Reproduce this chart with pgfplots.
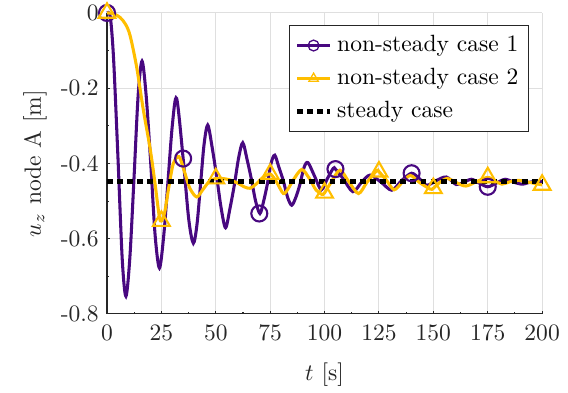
\documentclass[border=0pt]{standalone}
\usepackage{pgfplots}
\pgfplotsset{compat=1.18}
\definecolor{cpurple}{RGB}{72,8,128}
\definecolor{cyellow}{RGB}{255,190,0}
\definecolor{axgray}{RGB}{38,38,38}
\begin{document}
\begin{tikzpicture}
\begin{axis}[
  scale only axis,
  width=185pt, height=128pt,
  xmin=0, xmax=200, ymin=-0.8, ymax=0,
  axis x line*=bottom, axis y line*=left,
  axis line style={axgray, line width=0.45pt},
  xtick={0,25,...,200},
  ytick={-0.8,-0.6,-0.4,-0.2,0},
  yticklabels={{-0.8},{-0.6},{-0.4},{-0.2},{0}},
  minor x tick num=1, minor y tick num=1,
  major tick length=1.4pt, minor tick length=0.9pt,
  tick style={axgray, line width=0.45pt},
  tick label style={text=axgray},
  xticklabel style={yshift=-1.5pt},
  grid=major,
  major grid style={gray!25, line width=0.45pt},
  xlabel={$t$ [s]},
  ylabel={$u_z$ node A [m]},
  every axis x label/.style={at={([yshift=-26pt]rel axis cs:0.5,0)}, anchor=center},
  every axis y label/.style={at={([xshift=-30.6pt]rel axis cs:0,0.5)}, anchor=center, rotate=90},
  label style={text=axgray},
  clip=false,
  legend style={at={(rel axis cs:0.97,0.96)}, anchor=north east, draw=axgray, line width=0.45pt, fill=white, cells={anchor=west}, row sep=1.6pt, inner sep=2.3pt},
  legend cell align=left,
  legend image code/.code={
    \draw[#1, mark=none] (0pt,0pt) -- (14pt,0pt);
    \draw[#1, only marks, mark size=2.3pt, mark options={line width=0.55pt, solid}] plot coordinates {(7pt,0pt)};
  },
]
\coordinate (ll) at (rel axis cs:0,0);
\coordinate (ur) at (rel axis cs:1,1);
\addplot[cpurple, line width=1.3pt, smooth, mark=o, mark repeat=500, mark size=3.4pt, mark options={line width=0.9pt, solid}] coordinates {
(0,0) (1.5,-0.01) (3,-0.12) (5,-0.38) (7,-0.655) (8.7,-0.753) (10.5,-0.65) (12.4,-0.44) (14.3,-0.22) (16.1,-0.128)
(18.0,-0.22) (20.1,-0.40) (22.1,-0.59) (24.1,-0.678) (26.1,-0.59) (28.0,-0.45) (30.0,-0.30) (32.0,-0.227)
(35.0,-0.387) (37.6,-0.55) (39.7,-0.612) (41.4,-0.56) (43.0,-0.455) (44.6,-0.35) (46.3,-0.298)
(48.4,-0.36) (50.4,-0.435) (52.5,-0.52) (54.5,-0.571) (56.5,-0.52) (58.5,-0.458) (60.5,-0.385) (62.4,-0.345)
(64.4,-0.39) (66.3,-0.44) (68.3,-0.50) (70.3,-0.533) (72.0,-0.50) (73.7,-0.455) (75.4,-0.40) (77.1,-0.378)
(79.0,-0.41) (81.0,-0.445) (83.0,-0.49) (84.9,-0.511) (86.8,-0.49) (88.7,-0.455) (90.6,-0.41) (92.4,-0.398)
(95.5,-0.435) (98.5,-0.47) (101.3,-0.44) (104.0,-0.413) (105,-0.415) (108.5,-0.44) (113.0,-0.475) (117.0,-0.45)
(120.9,-0.431) (126.0,-0.45) (130.9,-0.471) (135.5,-0.445) (140.0,-0.426) (143.5,-0.44) (147,-0.458)
(151.5,-0.445) (156,-0.436) (160.5,-0.456) (164,-0.45) (167.5,-0.442) (171,-0.452) (175,-0.462)
(179,-0.452) (183,-0.442) (187,-0.45) (191,-0.455) (195,-0.449) (200,-0.448)
};
\addlegendentry{non-steady case 1}
\addplot[cyellow, line width=1.3pt, smooth, mark=triangle, mark repeat=500, mark size=4.1pt, mark options={line width=0.9pt, solid}] coordinates {
(0,0) (3,-0.002) (6,-0.012) (8.5,-0.03) (10.6,-0.06) (13.6,-0.143) (16.7,-0.258) (19.8,-0.36) (22,-0.45)
(24,-0.54) (25,-0.553) (26.5,-0.53) (28.5,-0.46) (30.5,-0.40) (33.1,-0.382) (35.5,-0.42) (38,-0.465)
(41.2,-0.489) (44,-0.47) (47,-0.448) (50,-0.44) (53,-0.44) (56,-0.443) (60,-0.452) (63,-0.462)
(65.7,-0.466) (68.5,-0.455) (71.5,-0.438) (75,-0.428) (78,-0.45) (81.1,-0.48) (83.5,-0.465) (85.5,-0.445)
(89.5,-0.416) (93,-0.44) (96,-0.47) (98.7,-0.482) (100,-0.478) (103,-0.45) (107.1,-0.418) (111.3,-0.45)
(115.6,-0.48) (119.5,-0.45) (124,-0.419) (125,-0.422) (128.5,-0.445) (132,-0.47) (136,-0.448)
(139.5,-0.432) (143.5,-0.45) (148.5,-0.468) (150,-0.466) (153,-0.45) (156.5,-0.44) (161,-0.452)
(165,-0.46) (170,-0.448) (175,-0.437) (178.5,-0.447) (181.5,-0.455) (185,-0.449) (189,-0.445)
(194,-0.45) (200,-0.457)
};
\addlegendentry{non-steady case 2}
\addplot[black, line width=2.1pt, dash pattern=on 2.5pt off 1.8pt] coordinates {(0,-0.449) (200,-0.449)};
\addlegendentry{steady case}
\addplot[cpurple, only marks, mark=o, mark size=3.4pt, mark options={line width=0.9pt}, forget plot] coordinates {
(35,-0.387) (70,-0.533) (105,-0.415) (140,-0.426) (175,-0.462)
};
\addplot[cyellow, only marks, mark=triangle, mark size=4.1pt, mark options={line width=0.9pt}, forget plot] coordinates {
(25,-0.553) (50,-0.44) (75,-0.428) (100,-0.478) (125,-0.422) (150,-0.466) (175,-0.437) (200,-0.457)
};
\end{axis}
\pgfresetboundingbox
\path ([shift={(-45.5pt,-33.2pt)}]ll) rectangle ([shift={(11pt,5.5pt)}]ur);
\end{tikzpicture}
\end{document}
